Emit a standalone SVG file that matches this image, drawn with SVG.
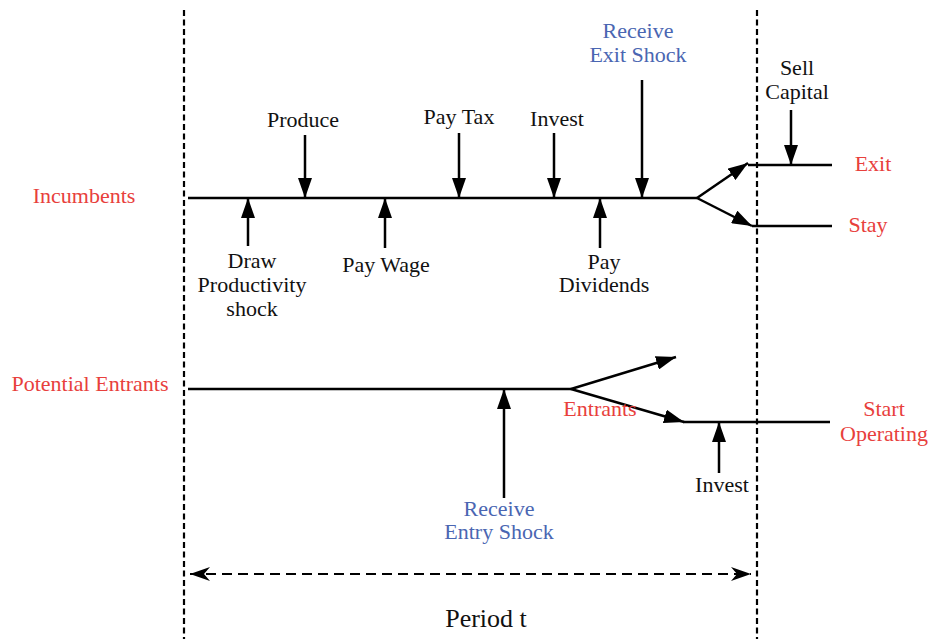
<svg xmlns="http://www.w3.org/2000/svg" width="928" height="639" viewBox="0 0 928 639">
<style>
text{font-family:"Liberation Serif","Times New Roman",serif;font-size:22px;text-anchor:middle;fill:#111}
.r{fill:#e8403c}
.b{fill:#4a66b2}
.l{stroke:#000;stroke-width:2.5;fill:none}
.a{stroke:#000;stroke-width:2.5;fill:none;marker-end:url(#ah)}
.d{stroke:#000;stroke-width:2.2;stroke-dasharray:6,3.5;fill:none}
.p{stroke:#000;stroke-width:2.2;stroke-dasharray:10,6;fill:none;marker-start:url(#ah2);marker-end:url(#ah2)}
</style>
<defs>
<marker id="ah" viewBox="0 0 20 14" refX="20" refY="7" markerWidth="20" markerHeight="14" markerUnits="userSpaceOnUse" orient="auto"><path d="M0,0L20,7L0,14z" fill="#000"/></marker>
<marker id="ah2" viewBox="0 0 20 14" refX="20" refY="7" markerWidth="20" markerHeight="14" markerUnits="userSpaceOnUse" orient="auto-start-reverse"><path d="M0,0L20,7L0,14L6,7z" fill="#000"/></marker>
</defs>
<g id="boundaries">
<line class="d" x1="184" y1="10" x2="184" y2="639"/>
<line class="d" x1="757" y1="10" x2="757" y2="639"/>
</g>
<g id="connectors">
<line class="l" x1="188" y1="198" x2="697" y2="198"/>
<line class="a" x1="697" y1="198" x2="748" y2="163"/>
<line class="a" x1="697" y1="198" x2="752" y2="226"/>
<line class="l" x1="748" y1="165" x2="832" y2="165"/>
<line class="l" x1="752" y1="226" x2="832" y2="226"/>
<line class="a" x1="305" y1="135" x2="305" y2="198"/>
<line class="a" x1="459" y1="133" x2="459" y2="198"/>
<line class="a" x1="554" y1="133" x2="554" y2="198"/>
<line class="a" x1="642" y1="80" x2="642" y2="198"/>
<line class="a" x1="791" y1="110" x2="791" y2="165"/>
<line class="a" x1="248" y1="246" x2="248" y2="198"/>
<line class="a" x1="385" y1="248" x2="385" y2="198"/>
<line class="a" x1="600" y1="248" x2="600" y2="198"/>
<line class="l" x1="188" y1="389" x2="571" y2="389"/>
<line class="a" x1="571" y1="389" x2="676" y2="357"/>
<line class="a" x1="571" y1="389" x2="684" y2="422"/>
<line class="l" x1="683" y1="422" x2="830" y2="422"/>
<line class="a" x1="504" y1="498" x2="504" y2="389"/>
<line class="a" x1="719" y1="473" x2="719" y2="422"/>
<line class="p" x1="190" y1="574" x2="751" y2="574"/>
</g>
<g id="incumbents"><text class="r" x="84" y="203">Incumbents</text></g>
<g id="entrants-label"><text class="r" x="90" y="391">Potential Entrants</text></g>
<g id="produce"><text x="303" y="127">Produce</text></g>
<g id="paytax"><text x="459" y="124">Pay Tax</text></g>
<g id="invest1"><text x="557" y="126">Invest</text></g>
<g id="exitshock"><text class="b" x="638" y="38">Receive</text><text class="b" x="638" y="62">Exit Shock</text></g>
<g id="sellcapital"><text x="797" y="75">Sell</text><text x="797" y="99">Capital</text></g>
<g id="exit"><text class="r" x="873" y="171">Exit</text></g>
<g id="stay"><text class="r" x="868" y="232">Stay</text></g>
<g id="draw"><text x="252" y="268">Draw</text><text x="252" y="292">Productivity</text><text x="252" y="316">shock</text></g>
<g id="paywage"><text x="386" y="272">Pay Wage</text></g>
<g id="paydiv"><text x="604" y="269">Pay</text><text x="604" y="292">Dividends</text></g>
<g id="entrants"><text class="r" x="600" y="416">Entrants</text></g>
<g id="start"><text class="r" x="884" y="416">Start</text><text class="r" x="884" y="441">Operating</text></g>
<g id="invest2"><text x="722" y="492">Invest</text></g>
<g id="entryshock"><text class="b" x="499" y="539" dy="-23">Receive</text><text class="b" x="499" y="539">Entry Shock</text></g>
<g id="period"><text x="486" y="627" style="font-size:26px">Period t</text></g>
</svg>
